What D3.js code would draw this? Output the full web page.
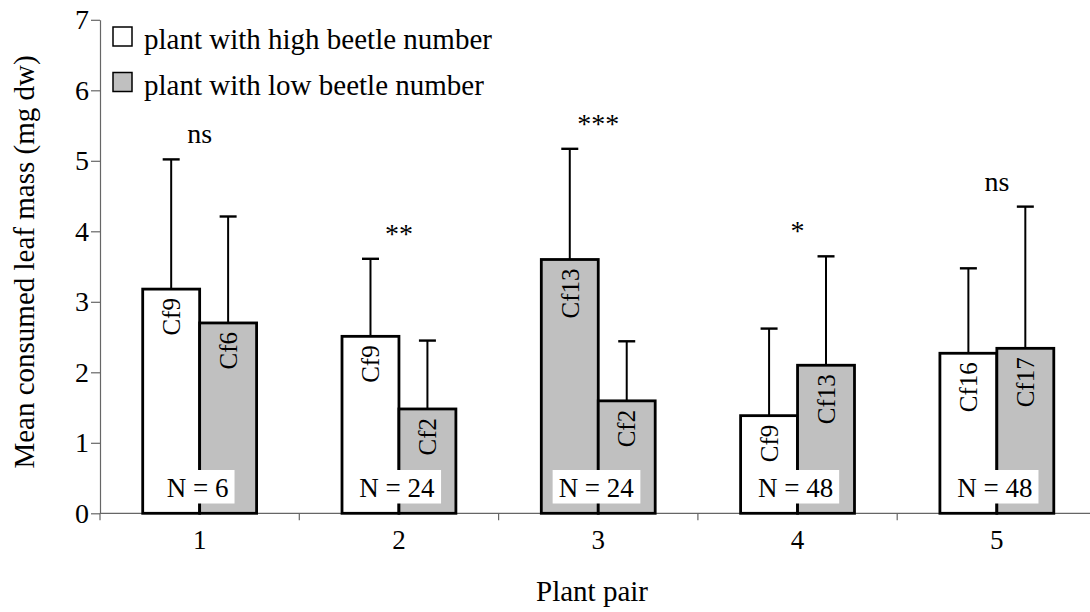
<!DOCTYPE html>
<html>
<head>
<meta charset="utf-8">
<script src="https://cdn.jsdelivr.net/npm/d3@7"></script>
<style>
  body { margin: 0; background: #fff; }
  text { font-family: "Liberation Serif", "Times New Roman", serif; fill: #000; }
</style>
</head>
<body>
<div id="chart"></div>
<script>
// chart data
var pairs = ["1", "2", "3", "4", "5"];
var highMean = [3.18, 2.51, 3.60, 1.385, 2.27];
var highErr = [1.84, 1.10, 1.57, 1.235, 1.205];
var lowMean = [2.70, 1.48, 1.595, 2.10, 2.34];
var lowErr = [1.51, 0.97, 0.845, 1.545, 2.01];
var highNames = ["Cf9", "Cf9", "Cf13", "Cf9", "Cf16"];
var lowNames = ["Cf6", "Cf2", "Cf2", "Cf13", "Cf17"];
var highShaded = [false, false, true, false, false];
var nLabels = ["N = 6", "N = 24", "N = 24", "N = 48", "N = 48"];
var sigLabels = ["ns", "**", "***", "*", "ns"];
var yTicks = [0, 1, 2, 3, 4, 5, 6, 7];
var legendLabels = ["plant with high beetle number", "plant with low beetle number"];

var svgWidth = 1090;
var svgHeight = 612;
var grey = "#c0c0c0";

var svg = d3.select("#chart")
  .append("svg")
  .attr("width", svgWidth)
  .attr("height", svgHeight);

// scales
var x0 = d3.scaleBand()
  .domain(pairs)
  .range([100, 1096.5])
  .padding(0);

var x1 = d3.scaleBand()
  .domain(["high", "low"])
  .range([0, x0.bandwidth()])
  .paddingInner(0)
  .paddingOuter(0.75);

var y = d3.scaleLinear()
  .domain([0, 7])
  .range([513.3, 19.8]);

// build rows for the bars
var bars = [];
pairs.forEach(function(p, i) {
  bars.push({pair: p, key: "high", mean: highMean[i], err: highErr[i], name: highNames[i], shaded: highShaded[i]});
  bars.push({pair: p, key: "low", mean: lowMean[i], err: lowErr[i], name: lowNames[i], shaded: true});
});

// y axis
var yAxis = svg.append("g")
  .attr("transform", "translate(100,0)")
  .call(d3.axisLeft(y).tickValues(yTicks).tickFormat(d3.format("d")).tickSize(9).tickPadding(2).tickSizeOuter(0));
yAxis.select(".domain").attr("stroke", "#666").attr("stroke-width", 1.2);
yAxis.selectAll(".tick line").attr("stroke", "#666").attr("stroke-width", 1.2);
yAxis.selectAll(".tick text").style("font-size", "28px").attr("fill", "#000");

// y axis continues a little below zero
svg.append("line")
  .attr("x1", 100).attr("x2", 100)
  .attr("y1", y(0)).attr("y2", y(0) + 7)
  .attr("stroke", "#666").attr("stroke-width", 1.2);

// x axis line
svg.append("line")
  .attr("x1", 100).attr("x2", svgWidth)
  .attr("y1", y(0)).attr("y2", y(0))
  .attr("stroke", "#666").attr("stroke-width", 1.2);

// x ticks between pairs
svg.selectAll(".xtick")
  .data(pairs.slice(1))
  .enter()
  .append("line")
  .attr("class", "xtick")
  .attr("x1", d => x0(d)).attr("x2", d => x0(d))
  .attr("y1", y(0)).attr("y2", y(0) + 7)
  .attr("stroke", "#666").attr("stroke-width", 1.2);

// x labels
svg.selectAll(".xlabel")
  .data(pairs)
  .enter()
  .append("text")
  .attr("class", "xlabel")
  .attr("x", d => x0(d) + x0.bandwidth() / 2)
  .attr("y", 549)
  .attr("text-anchor", "middle")
  .style("font-size", "27px")
  .text(d => d);

// bars
var barGroup = svg.append("g");
barGroup.selectAll("rect")
  .data(bars)
  .enter()
  .append("rect")
  .attr("x", d => x0(d.pair) + x1(d.key))
  .attr("y", d => y(d.mean))
  .attr("width", x1.bandwidth())
  .attr("height", d => y(0) - y(d.mean))
  .attr("fill", d => d.shaded ? grey : "#fff")
  .attr("stroke", "#000")
  .attr("stroke-width", 2.8);

// error bars (upper only)
var errGroup = svg.append("g");
errGroup.selectAll(".errline")
  .data(bars)
  .enter()
  .append("line")
  .attr("class", "errline")
  .attr("x1", d => x0(d.pair) + x1(d.key) + x1.bandwidth() / 2)
  .attr("x2", d => x0(d.pair) + x1(d.key) + x1.bandwidth() / 2)
  .attr("y1", d => y(d.mean))
  .attr("y2", d => y(d.mean + d.err))
  .attr("stroke", "#000")
  .attr("stroke-width", 2);

errGroup.selectAll(".errcap")
  .data(bars)
  .enter()
  .append("line")
  .attr("class", "errcap")
  .attr("x1", d => x0(d.pair) + x1(d.key) + x1.bandwidth() / 2 - 8.5)
  .attr("x2", d => x0(d.pair) + x1(d.key) + x1.bandwidth() / 2 + 8.5)
  .attr("y1", d => y(d.mean + d.err))
  .attr("y2", d => y(d.mean + d.err))
  .attr("stroke", "#000")
  .attr("stroke-width", 2.4);

// plant names inside the bars, rotated
svg.selectAll(".barname")
  .data(bars)
  .enter()
  .append("text")
  .attr("class", "barname")
  .attr("transform", d => `translate(${x0(d.pair) + x1(d.key) + x1.bandwidth() / 2}, ${y(d.mean) + 9}) rotate(-90)`)
  .attr("text-anchor", "end")
  .attr("dy", "0.35em")
  .style("font-size", "25px")
  .text(d => d.name);

// N boxes
var nGroup = svg.selectAll(".nlabel")
  .data(pairs)
  .enter()
  .append("g")
  .attr("class", "nlabel");

nGroup.append("text")
  .attr("x", d => x0(d) + x0.bandwidth() / 2 - 2)
  .attr("y", 497)
  .attr("text-anchor", "middle")
  .style("font-size", "27px")
  .text((d, i) => nLabels[i])
  .each(function() {
    var bb = this.getBBox();
    d3.select(this.parentNode).insert("rect", "text")
      .attr("x", bb.x - 6)
      .attr("y", 470)
      .attr("width", bb.width + 12)
      .attr("height", 33.5)
      .attr("fill", "#fff");
  });

// significance labels
svg.selectAll(".sig")
  .data(pairs)
  .enter()
  .append("text")
  .attr("class", "sig")
  .attr("x", d => x0(d) + x0.bandwidth() / 2)
  .attr("y", (d, i) => y(Math.max(highMean[i] + highErr[i], lowMean[i] + lowErr[i])) - 16)
  .attr("text-anchor", "middle")
  .style("font-size", "28px")
  .text((d, i) => sigLabels[i]);

// axis titles
svg.append("text")
  .attr("transform", "translate(34, 262) rotate(-90)")
  .attr("text-anchor", "middle")
  .style("font-size", "29px")
  .text("Mean consumed leaf mass (mg dw)");

svg.append("text")
  .attr("x", 592)
  .attr("y", 601)
  .attr("text-anchor", "middle")
  .style("font-size", "29px")
  .text("Plant pair");

// legend
var legend = svg.selectAll(".legend")
  .data(legendLabels)
  .enter()
  .append("g")
  .attr("class", "legend")
  .attr("transform", (d, i) => `translate(113, ${27 + i * 45.5})`);

legend.append("rect")
  .attr("width", 19)
  .attr("height", 19)
  .attr("fill", (d, i) => i === 0 ? "#fff" : grey)
  .attr("stroke", "#000")
  .attr("stroke-width", 1.5);

legend.append("text")
  .attr("x", 31)
  .attr("y", 22)
  .style("font-size", "29px")
  .text(d => d);
</script>
</body>
</html>
